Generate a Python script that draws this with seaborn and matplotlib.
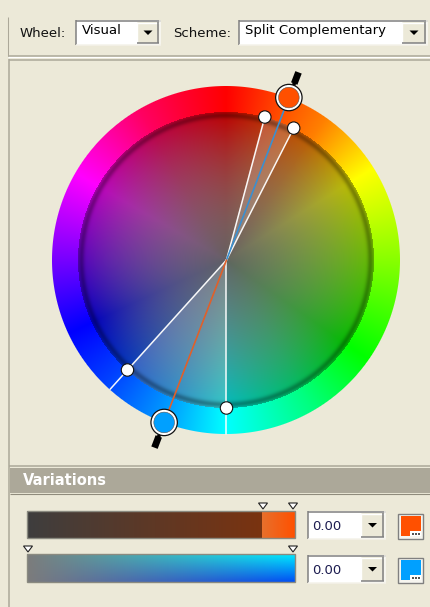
import numpy as np
import matplotlib
matplotlib.use("Agg")
import matplotlib.pyplot as plt
import matplotlib.colors as mcolors
from matplotlib.patches import Rectangle, Circle, Polygon
import seaborn as sns

# ---------------------------------------------------------------- data
wheel_name = "Visual"
scheme_name = "Split Complementary"
# wheel: angle clockwise from top -> hsv hue (degrees)
wheel_theta = [0, 21, 35, 58, 90, 125, 150, 180, 201, 225, 245, 270, 300, 330, 345, 360]
wheel_hue = [0, 19, 30, 60, 88, 120, 150, 180, 203, 225, 240, 268, 300, 337, 349, 360]
handle_angles = [21, 201]
handle_colors = ["#ff5000", "#00a0ff"]
handle_line_colors = ["#3a8fd0", "#e0602a"]
dot_angles = [15, 27, 180, 222]
dot_line_ends = ["dot", "dot", "edge", "edge"]
variation_values = ["0.00", "0.00"]
bar1_colors = ["#3e3e3e", "#7a3310"]
bar1_block = ["#e8702c", "#ff5000"]
bar2_colors = ["#7c7c7c", "#00eaff", "#0050f5"]   # left, top right, bottom right
bar1_markers = [263, 293]
bar2_markers = [28, 293]

sns.set_theme(style="white")
plt.rcParams['font.family'] = ['DejaVu Sans']

BG = "#ece9d8"
fig = plt.figure(figsize=(4.31, 6.07), dpi=100)
fig.patch.set_facecolor(BG)
ax = fig.add_axes([0, 0, 1, 1])
ax.set_xlim(0, 431)
ax.set_ylim(607, 0)
ax.axis('off')
ax.set_facecolor(BG)

def hline(x0, x1, y, c, lw=0.75):
    ax.plot([x0, x1], [y, y], color=c, lw=lw, solid_capstyle='butt')

def vline(x, y0, y1, c, lw=0.75):
    ax.plot([x, x], [y0, y1], color=c, lw=lw, solid_capstyle='butt')

def sunken_box(x0, y0, x1, y1):
    ax.add_patch(Rectangle((x0, y0), x1 - x0, y1 - y0, fc="white", ec="none"))
    hline(x0, x1, y0 + 0.5, "#808080", 1.1)
    vline(x0 + 0.5, y0, y1, "#808080", 1.1)
    hline(x0, x1, y1 - 0.5, "#f4f2ea", 1.1)
    vline(x1 - 0.5, y0, y1, "#f4f2ea", 1.1)

def button(x0, y0, x1, y1):
    ax.add_patch(Rectangle((x0, y0), x1 - x0, y1 - y0, fc=BG, ec="none"))
    hline(x0, x1, y0 + 0.5, "white", 1.0)
    vline(x0 + 0.5, y0, y1, "white", 1.0)
    hline(x0, x1, y1 - 0.5, "#808080", 1.1)
    vline(x1 - 0.5, y0, y1, "#808080", 1.1)
    cx, cy = (x0 + x1) / 2, (y0 + y1) / 2
    ax.add_patch(Polygon([(cx - 4.5, cy - 2), (cx + 4.5, cy - 2), (cx, cy + 2.5)],
                         closed=True, fc="black", ec="none"))

# ---------------------------------------------------------------- toolbar
vline(8.5, 17, 56, "#aca899")
hline(8, 431, 55.5, "#aca899", 1.1)
hline(8, 431, 56.5, "white", 0.8)
ax.text(20, 37, "Wheel:", fontsize=9.5, color="#111111", ha="left", va="baseline")
sunken_box(76, 20, 161, 45)
ax.text(82, 34, wheel_name, fontsize=9.5, color="black", ha="left", va="baseline")
button(137, 22, 159, 43)
ax.text(173, 37, "Scheme:", fontsize=9.5, color="#111111", ha="left", va="baseline")
sunken_box(239, 20, 428, 45)
ax.text(245, 34, scheme_name, fontsize=9.5, color="black", ha="left", va="baseline")
button(402, 22, 426, 43)

# main panel frame
hline(9, 431, 59.5, "#aca899", 1.1)
vline(9.5, 59, 607, "#aca899", 1.1)
hline(9, 431, 465.5, "#aca899", 1.1)

# ---------------------------------------------------------------- wheel
cx, cy, R, Ri = 226.5, 260.0, 174.0, 148.0
size = int(2 * R + 6)
x0w, y0w = cx - size / 2, cy - size / 2
xs = x0w + np.arange(size) + 0.5
ys = y0w + np.arange(size) + 0.5
X, Y = np.meshgrid(xs, ys)
dx, dy = X - cx, Y - cy
r = np.hypot(dx, dy)
theta = np.degrees(np.arctan2(dx, -dy)) % 360
hue = (np.interp(theta, wheel_theta, wheel_hue) % 360) / 360.0
t = np.clip(r / Ri, 0, 1)
sat = np.where(r >= Ri, 1.0, 0.08 + 0.92 * t ** 1.1)
val = np.where(r >= Ri, 1.0, 0.40 + 0.34 * t)
rgb = mcolors.hsv_to_rgb(np.dstack([hue, sat, val]))

inner = r < Ri
# highlighted wedges of the scheme
for a0, a1 in [(dot_angles[0], dot_angles[1]), (dot_angles[2], dot_angles[3])]:
    w = np.clip(np.minimum(theta - a0, a1 - theta) + 0.5, 0, 1) * inner
    rgb = rgb + (0.18 * w)[..., None] * (1 - rgb)
# shadow band inside the inner edge
shade = 1 - 0.3 * np.exp(-((r - (Ri - 3.5)) / 3.0) ** 2) * inner
rgb = rgb * shade[..., None]
alpha = np.clip(R + 0.5 - r, 0, 1)
img = np.dstack([rgb, alpha])
ax.imshow(img, extent=(x0w, x0w + size, y0w + size, y0w), origin="upper",
          interpolation="nearest", zorder=2)

def polar(angle, rad):
    a = np.radians(angle)
    return cx + rad * np.sin(a), cy - rad * np.cos(a)

# lines from centre
for ang, end in zip(dot_angles, dot_line_ends):
    px, py = polar(ang, Ri if end == "dot" else R)
    ax.plot([cx, px], [cy, py], color="white", lw=1.1, alpha=0.95, zorder=3)
for ang, lc in zip(handle_angles, handle_line_colors):
    px, py = polar(ang, R)
    ax.plot([cx, px], [cy, py], color=lc, lw=1.2, zorder=3)

# small dots
for ang in dot_angles:
    px, py = polar(ang, Ri)
    ax.add_patch(Circle((px, py), 6.2, fc="white", ec="#111111", lw=0.8, zorder=4))

# handles with little pins
for ang, hc in zip(handle_angles, handle_colors):
    px, py = polar(ang, R)
    a = np.radians(ang)
    u = np.array([np.sin(a), -np.cos(a)])
    n = np.array([np.cos(a), np.sin(a)])
    c = np.array([cx, cy])
    def quad(r0, r1, w):
        return [c + u * r0 + n * w, c + u * r1 + n * w, c + u * r1 - n * w, c + u * r0 - n * w]
    ax.add_patch(Polygon(quad(R + 10, R + 16, 1.8), closed=True, fc="black", ec="none", zorder=4))
    ax.add_patch(Polygon(quad(R + 15, R + 27, 3.4), closed=True, fc="black", ec="none", zorder=4))
    ax.add_patch(Circle((px, py), 13.2, fc="white", ec="#111111", lw=0.9, zorder=5))
    ax.add_patch(Circle((px, py), 10.3, fc=hc, ec="#555555", lw=0.4, zorder=6))

# ---------------------------------------------------------------- variations
ax.add_patch(Rectangle((10, 468), 421, 25, fc="#aca899", ec="none"))
hline(10, 431, 493.5, "#8f8b7c", 0.8)
ax.text(23, 485, "Variations", fontsize=10.5, fontweight="bold", color="white",
        ha="left", va="baseline")

# bar 1
bx0, bx1 = 27, 295
split = bar1_markers[0] - 1
cmap1 = sns.blend_palette(bar1_colors, as_cmap=True)
g = np.linspace(0, 1, 256)[None, :]
ax.imshow(g, cmap=cmap1, aspect="auto", extent=(bx0, split, 538, 511), zorder=2)
cmap1b = sns.blend_palette(bar1_block, as_cmap=True)
ax.imshow(g, cmap=cmap1b, aspect="auto", extent=(split, bx1, 538, 511), zorder=2)
ax.add_patch(Rectangle((bx0, 511), bx1 - bx0, 27, fc="none", ec="#8a8a80", lw=1.0, zorder=3))

# bar 2 (2-d blend)
W, H = 268, 28
left = np.array(mcolors.to_rgb(bar2_colors[0]))
tr = np.array(mcolors.to_rgb(bar2_colors[1]))
br = np.array(mcolors.to_rgb(bar2_colors[2]))
uu = np.linspace(0, 1, W)[None, :, None]
vv = np.linspace(0, 1, H)[:, None, None]
right = tr * (1 - vv) + br * vv
img2 = left * (1 - uu) + right * uu
ax.imshow(np.clip(img2, 0, 1), aspect="auto", extent=(bx0, bx1, 582, 554), zorder=2)
ax.add_patch(Rectangle((bx0, 554), bx1 - bx0, 28, fc="none", ec="#8a8a80", lw=1.0, zorder=3))

def marker(x, ytop):
    ax.add_patch(Polygon([(x - 4.5, ytop), (x + 4.5, ytop), (x, ytop + 6)], closed=True,
                         fc="white", ec="#222222", lw=0.8, zorder=4))

for m in bar1_markers:
    marker(m, 503)
for m in bar2_markers:
    marker(m, 546)

# value boxes and swatches
for (yt, yb), val_txt, sw in zip([(511, 539), (555, 583)], variation_values, handle_colors):
    sunken_box(308, yt, 386, yb)
    ax.text(312, yb - 9, val_txt, fontsize=9.5, color="#1c1c50", ha="left", va="baseline")
    button(361, yt + 2, 384, yb - 2)
    sy = yt + 3
    ax.add_patch(Rectangle((398.5, sy - 0.5), 25, 25, fc="#f6f5ef", ec="#808080", lw=1.0))
    ax.add_patch(Rectangle((401, sy + 2), 20, 20, fc=sw, ec="none"))
    ax.add_patch(Rectangle((410, sy + 17), 11, 5, fc="white", ec="none"))
    for k in range(3):
        ax.add_patch(Rectangle((412 + k * 3, sy + 19), 1.6, 1.6, fc="#555555", ec="none"))

fig.savefig("out.png", dpi=100, facecolor=fig.get_facecolor())
